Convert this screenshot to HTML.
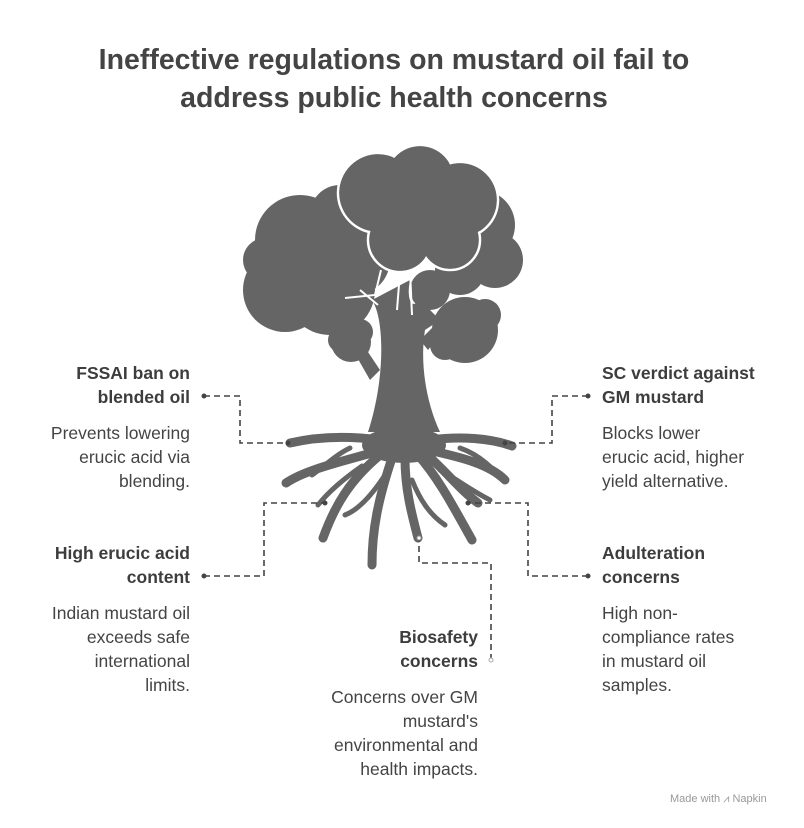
<!DOCTYPE html>
<html><head><meta charset="utf-8"><style>
body{margin:0;width:804px;height:828px;background:#fff;font-family:"Liberation Sans",sans-serif;overflow:hidden;position:relative}
.t{position:absolute;font-size:17.5px;line-height:24px;color:#444}
.b{font-weight:bold;color:#3d3d3d}
.r{text-align:right}
h1{position:absolute;left:-8px;width:804px;top:41px;margin:0;text-align:center;font-size:28.5px;line-height:38px;color:#444;font-weight:bold}
</style></head><body>
<h1>Ineffective regulations on mustard oil fail to<br>address public health concerns</h1>
<svg width="804" height="828" style="position:absolute;left:0;top:0">
<g fill="#656565">
<circle cx="300" cy="240" r="45"/><circle cx="285" cy="290" r="42"/><circle cx="340" cy="215" r="30"/><circle cx="330" cy="290" r="45"/><circle cx="355" cy="260" r="35"/><circle cx="265" cy="260" r="22"/>
<circle cx="480" cy="225" r="35"/><circle cx="495" cy="260" r="28"/><circle cx="460" cy="270" r="25"/><circle cx="430" cy="290" r="20"/>
<path d="M372 300 C385 320 385 380 368 432 L440 432 C425 400 420 360 425 330 L440 320 L420 300 C412 310 406 300 410 280 Z"/>
<path d="M350 345 L370 380 L380 370 L360 340Z"/><path d="M420 340 L440 320 L448 325 L428 350Z"/>
<circle cx="351" cy="342" r="20"/><circle cx="340" cy="340" r="12"/><circle cx="360" cy="332" r="13"/>
<circle cx="465" cy="330" r="33"/><circle cx="445" cy="345" r="15"/><circle cx="485" cy="315" r="16"/>
<ellipse cx="404" cy="445" rx="42" ry="18"/>
</g>
<g fill="none" stroke="#656565" stroke-linecap="round">
<g stroke-width="9">
<path d="M380 440 C350 436 320 436 290 443"/>
<path d="M430 440 C460 436 490 438 512 446"/>
<path d="M375 452 C340 462 305 470 286 483"/>
<path d="M380 455 C350 480 335 505 323 538"/>
<path d="M392 458 C378 500 372 530 372 565"/>
<path d="M405 458 C405 490 412 515 418 538"/>
<path d="M418 455 C440 480 455 510 472 540"/>
<path d="M428 450 C465 458 490 465 505 480"/>
<path d="M425 453 C445 470 460 490 478 503"/>
</g>
<g stroke-width="5">
<path d="M362 466 C345 478 330 490 318 505"/>
<path d="M385 475 C372 495 358 510 345 515"/>
<path d="M440 470 C455 478 470 490 490 500"/>
<path d="M412 480 C420 500 430 515 445 525"/>
<path d="M350 448 C335 455 320 470 312 475"/>
<path d="M460 448 C480 455 495 470 500 478"/>
</g>
</g>
<g fill="#656565" stroke="#fff" stroke-width="2.5">
<circle cx="378" cy="193" r="40"/><circle cx="420" cy="180" r="35"/><circle cx="460" cy="200" r="38"/><circle cx="400" cy="240" r="32"/><circle cx="450" cy="240" r="30"/><circle cx="420" cy="215" r="35"/>
</g>
<g fill="#656565"><circle cx="378" cy="193" r="38.7"/><circle cx="420" cy="180" r="33.7"/><circle cx="460" cy="200" r="36.7"/><circle cx="400" cy="240" r="30.7"/><circle cx="450" cy="240" r="28.7"/><circle cx="420" cy="215" r="33.7"/></g>
<g fill="none" stroke="#fff" stroke-width="2"><path d="M381 270 L375 295 L345 298"/><path d="M400 272 L397 310"/><path d="M410 270 L412 315"/><path d="M360 290 L378 305"/></g>
<g fill="none" stroke="#444" stroke-width="1.6" stroke-dasharray="6,4">
<path d="M204 396 H240 V443 H288"/>
<path d="M588 396 H552 V443 H505"/>
<path d="M204 576 H264 V503 H325"/>
<path d="M588 576 H528 V503 H468"/>
<path d="M491 660 V563 H419 V538"/>
</g>
<g fill="#444"><circle cx="204" cy="396" r="2.5"/><circle cx="288" cy="443" r="2.5"/><circle cx="588" cy="396" r="2.5"/><circle cx="505" cy="443" r="2.5"/><circle cx="204" cy="576" r="2.5"/><circle cx="325" cy="503" r="2.5"/><circle cx="588" cy="576" r="2.5"/><circle cx="468" cy="503" r="2.5"/></g>
<circle cx="419" cy="538" r="2" fill="#fff" stroke="#999"/><circle cx="491" cy="660" r="2" fill="#fff" stroke="#aaa"/>
</svg>
<div class="t b r" style="right:614px;top:361px;width:200px">FSSAI ban on<br>blended oil</div>
<div class="t r" style="right:614px;top:421px;width:200px">Prevents lowering<br>erucic acid via<br>blending.</div>
<div class="t b r" style="right:614px;top:541px;width:200px">High erucic acid<br>content</div>
<div class="t r" style="right:614px;top:601px;width:200px">Indian mustard oil<br>exceeds safe<br>international<br>limits.</div>
<div class="t b" style="left:602px;top:361px">SC verdict against<br>GM mustard</div>
<div class="t" style="left:602px;top:421px">Blocks lower<br>erucic acid, higher<br>yield alternative.</div>
<div class="t b" style="left:602px;top:541px">Adulteration<br>concerns</div>
<div class="t" style="left:602px;top:601px">High non-<br>compliance rates<br>in mustard oil<br>samples.</div>
<div class="t b r" style="right:326px;top:625px;width:200px">Biosafety<br>concerns</div>
<div class="t r" style="right:326px;top:685px;width:200px">Concerns over GM<br>mustard's<br>environmental and<br>health impacts.</div>
<div style="position:absolute;left:670px;top:793px;font-size:11px;color:#999">Made with ⩘ Napkin</div>
</body></html>
